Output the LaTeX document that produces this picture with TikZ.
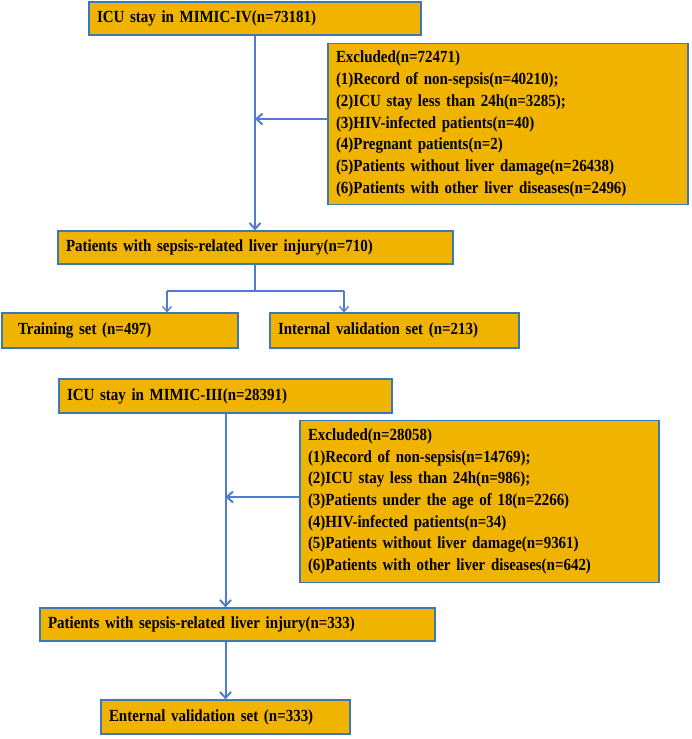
\documentclass[tikz,border=0pt]{standalone}
\usepackage{fontspec}
\setmainfont{Liberation Serif}[FakeStretch=0.88]
\usetikzlibrary{positioning,arrows.meta}
\definecolor{boxgold}{HTML}{F0B400}
\definecolor{flowblue}{HTML}{4F7BD4}
\definecolor{edgeblue}{HTML}{3A78B8}
\tikzset{
  flowbox/.style={draw=edgeblue,line width=1.2pt,fill=boxgold,inner sep=8pt,
    align=left,font=\fontsize{17}{21.7}\selectfont\bfseries,minimum height=#1},
  flowbox/.default=33pt,
  mainarrow/.style={draw=flowblue,line width=2pt,-{Straight Barb[length=6pt,width=11pt]}},
  splitarrow/.style={draw=flowblue,line width=1.3pt,-{Straight Barb[length=5pt,width=9pt]}}
}
\begin{document}
\begin{tikzpicture}[x=1pt,y=-1pt]
  \useasboundingbox (0,0) rectangle (691,739);

  % MIMIC-IV cohort
  \node[flowbox,text width=316pt] (icu4) at (255,18.5) {ICU stay in MIMIC-IV(n=73181)};
  \node[flowbox=154pt,text width=344pt] (excl4) at (508,124)
    {Excluded(n=72471)\\(1)Record of non-sepsis(n=40210);\\(2)ICU stay less than 24h(n=3285);\\(3)HIV-infected patients(n=40)\\(4)Pregnant patients(n=2)\\(5)Patients without liver damage(n=26438)\\(6)Patients with other liver diseases(n=2496)};
  \node[flowbox,text width=379pt] (liver4) at (255.5,247.5) {Patients with sepsis-related liver injury(n=710)};
  \node[flowbox=35pt,text width=220pt] (train) at (120,330.5) {\hspace*{8pt}Training set (n=497)};
  \node[flowbox=35pt,text width=233pt] (intval) at (394.5,330.5) {Internal validation set (n=213)};

  \draw[mainarrow] (icu4.south) -- (icu4.south |- liver4.north);
  \draw[mainarrow] (excl4.west |- 0,119) -- (icu4.south |- 0,119);

  \coordinate (split) at (liver4.south |- 0,291);
  \draw[draw=flowblue,line width=1.3pt] (liver4.south -| icu4.south) -- (icu4.south |- split);
  \draw[draw=flowblue,line width=1.3pt] (167,291) -- (344,291);
  \draw[splitarrow] (167,291) -- (167 ,0 |- train.north);
  \draw[splitarrow] (344,291) -- (344,0 |- intval.north);

  % MIMIC-III cohort
  \node[flowbox=34pt,text width=317pt] (icu3) at (225.5,396) {ICU stay in MIMIC-III(n=28391)};
  \node[flowbox=153pt,text width=343pt] (excl3) at (479.5,501.5)
    {Excluded(n=28058)\\(1)Record of non-sepsis(n=14769);\\(2)ICU stay less than 24h(n=986);\\(3)Patients under the age of 18(n=2266)\\(4)HIV-infected patients(n=34)\\(5)Patients without liver damage(n=9361)\\(6)Patients with other liver diseases(n=642)};
  \node[flowbox,text width=379pt] (liver3) at (237.5,624.5) {Patients with sepsis-related liver injury(n=333)};
  \node[flowbox=34pt,text width=233pt] (extval) at (225.5,717) {Enternal validation set (n=333)};

  \draw[mainarrow] (icu3.south) -- (icu3.south |- liver3.north);
  \draw[mainarrow] (excl3.west |- 0,497) -- (icu3.south |- 0,497);
  \draw[mainarrow] (icu3.south |- liver3.south) -- (extval.north);
\end{tikzpicture}
\end{document}
